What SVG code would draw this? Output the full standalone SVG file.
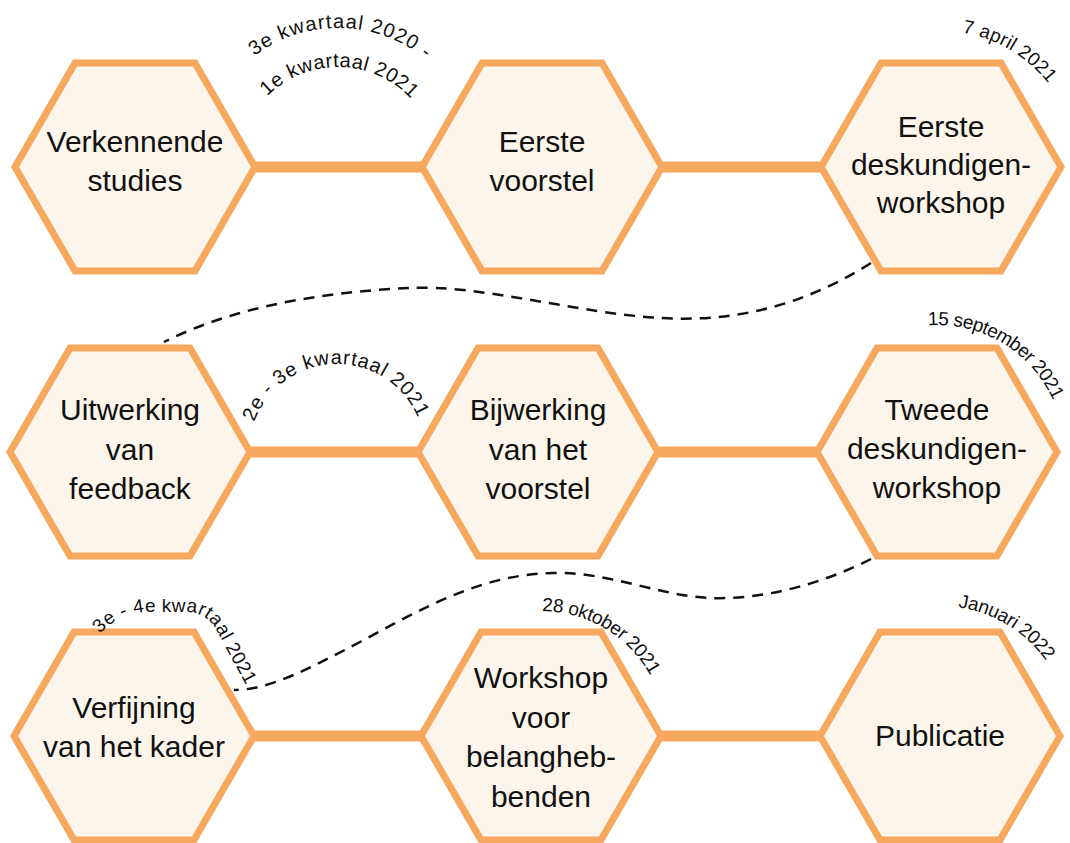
<svg xmlns="http://www.w3.org/2000/svg" xmlns:xlink="http://www.w3.org/1999/xlink" width="1070" height="843" viewBox="0 0 1070 843">
  <style>
    .hex { fill: #FCF5EB; stroke: #F6A85F; stroke-width: 7; stroke-linejoin: miter; }
    .bar { stroke: #F6A85F; stroke-width: 11; fill: none; }
    .dash { stroke: #111; stroke-width: 2.5; fill: none; stroke-dasharray: 11 8; }
    .lbl { font-family: "Liberation Sans", Arial, sans-serif; font-size: 30px; fill: #111; text-anchor: middle; }
    .date { font-family: "Liberation Sans", Arial, sans-serif; font-size: 20px; fill: #111; }
    .date.sm { font-size: 19px; }
  </style>
  <defs>
    <!-- regular hexagon, circumradius 120, centred on the origin -->
    <polygon id="hexShape" points="-120,0 -60,-104 60,-104 120,0 60,104 -60,104"/>
    <!-- baselines for the date captions -->
    <path id="arcA1" d="M 254.3 56 A 139 139 0 0 1 429.2 62.1"/>
    <path id="arcA2" d="M 267.3 96.3 A 100 100 0 0 1 412.3 100.1"/>
    <path id="arcB" d="M 962.3 32.7 A 136 136 0 0 1 1058.8 99"/>
    <path id="arcC" d="M 254.3 421.9 A 88 88 0 0 1 422 429.2"/>
    <path id="arcD" d="M 928.1 325.3 A 127 127 0 0 1 1059.7 419.1"/>
    <path id="arcE" d="M 100 634 C 112 620, 130 612, 150 612 L 187 612 A 33 33 0 0 1 216 629.4 L 252 696"/>
    <path id="arcF" d="M 542.1 611 A 125 125 0 0 1 658.5 693.2"/>
    <path id="arcG" d="M 958.1 607.3 A 130 130 0 0 1 1057.8 681.1"/>
  </defs>

  <rect width="1070" height="843" fill="#FFFFFF"/>

  <g id="connectors">
    <line class="bar" x1="135" y1="167" x2="542" y2="167"/>
    <line class="bar" x1="542" y1="167" x2="941" y2="167"/>
    <line class="bar" x1="130" y1="452" x2="538" y2="452"/>
    <line class="bar" x1="538" y1="452" x2="937" y2="452"/>
    <line class="bar" x1="134" y1="736" x2="541" y2="736"/>
    <line class="bar" x1="541" y1="736" x2="940" y2="736"/>
    <path class="dash" d="M 871 263 C 800 308, 730 322, 662 318 C 580 314, 480 284, 408 288 C 330 292, 240 304, 164 342"/>
    <path class="dash" d="M 871 559 C 820 585, 760 600, 710 598 C 660 596, 610 572, 554 573 C 480 574, 420 610, 360 642 C 310 668, 270 690, 234 690"/>
  </g>

  <g id="node-verkennende-studies">
    <use xlink:href="#hexShape" class="hex" transform="translate(135 167)"/>
    <text class="lbl" x="135" y="152">Verkennende</text>
    <text class="lbl" x="135" y="191">studies</text>
  </g>
  <g id="node-eerste-voorstel">
    <use xlink:href="#hexShape" class="hex" transform="translate(542 167)"/>
    <text class="lbl" x="542" y="152">Eerste</text>
    <text class="lbl" x="542" y="191">voorstel</text>
  </g>
  <g id="node-eerste-workshop">
    <use xlink:href="#hexShape" class="hex" transform="translate(941 167)"/>
    <text class="lbl" x="941" y="137">Eerste</text>
    <text class="lbl" x="941" y="175">deskundigen-</text>
    <text class="lbl" x="941" y="213">workshop</text>
  </g>

  <g id="node-uitwerking">
    <use xlink:href="#hexShape" class="hex" transform="translate(130 452)"/>
    <text class="lbl" x="130" y="420">Uitwerking</text>
    <text class="lbl" x="130" y="460">van</text>
    <text class="lbl" x="130" y="499">feedback</text>
  </g>
  <g id="node-bijwerking">
    <use xlink:href="#hexShape" class="hex" transform="translate(538 452)"/>
    <text class="lbl" x="538" y="420">Bijwerking</text>
    <text class="lbl" x="538" y="460">van het</text>
    <text class="lbl" x="538" y="499">voorstel</text>
  </g>
  <g id="node-tweede-workshop">
    <use xlink:href="#hexShape" class="hex" transform="translate(937 452)"/>
    <text class="lbl" x="937" y="420">Tweede</text>
    <text class="lbl" x="937" y="459">deskundigen-</text>
    <text class="lbl" x="937" y="498">workshop</text>
  </g>

  <g id="node-verfijning">
    <use xlink:href="#hexShape" class="hex" transform="translate(134 736)"/>
    <text class="lbl" x="134" y="718">Verfijning</text>
    <text class="lbl" x="134" y="757">van het kader</text>
  </g>
  <g id="node-workshop-belanghebbenden">
    <use xlink:href="#hexShape" class="hex" transform="translate(541 736)"/>
    <text class="lbl" x="541" y="688">Workshop</text>
    <text class="lbl" x="541" y="728">voor</text>
    <text class="lbl" x="541" y="767">belangheb-</text>
    <text class="lbl" x="541" y="807">benden</text>
  </g>
  <g id="node-publicatie">
    <use xlink:href="#hexShape" class="hex" transform="translate(940 736)"/>
    <text class="lbl" x="940" y="746">Publicatie</text>
  </g>

  <g id="dates">
    <text class="date"><textPath xlink:href="#arcA1" textLength="184" lengthAdjust="spacing">3e kwartaal 2020 -</textPath></text>
    <text class="date"><textPath xlink:href="#arcA2" textLength="160" lengthAdjust="spacing">1e kwartaal 2021</textPath></text>
    <text class="date sm"><textPath xlink:href="#arcB" textLength="102" lengthAdjust="spacing">7 april 2021</textPath></text>
    <text class="date"><textPath xlink:href="#arcC" textLength="210" lengthAdjust="spacing">2e - 3e kwartaal 2021</textPath></text>
    <text class="date sm"><textPath xlink:href="#arcD" textLength="155" lengthAdjust="spacing">15 september 2021</textPath></text>
    <text class="date sm"><textPath xlink:href="#arcE" textLength="192" lengthAdjust="spacing">3e - 4e kwartaal 2021</textPath></text>
    <text class="date sm"><textPath xlink:href="#arcF" textLength="132" lengthAdjust="spacing">28 oktober 2021</textPath></text>
    <text class="date sm"><textPath xlink:href="#arcG" textLength="106" lengthAdjust="spacing">Januari 2022</textPath></text>
  </g>
</svg>
